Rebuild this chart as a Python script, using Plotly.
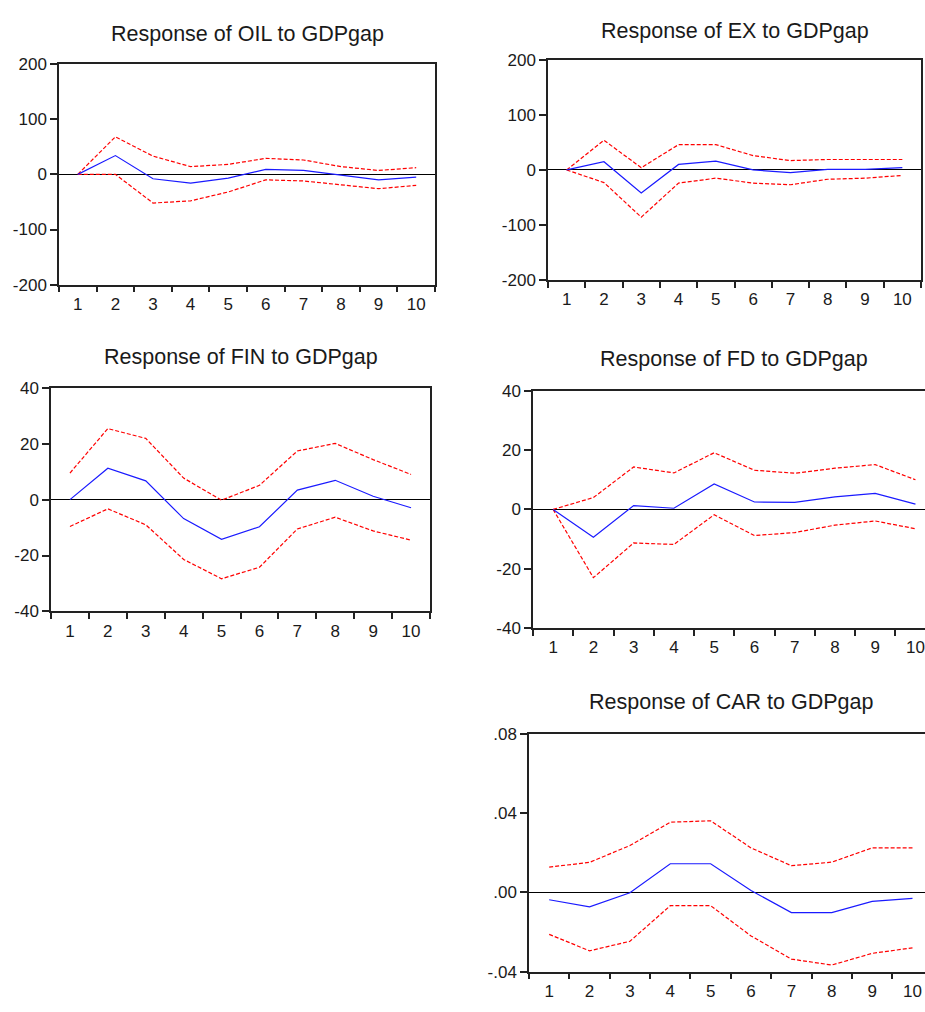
import plotly.graph_objects as go

W, H = 925, 1012

periods = ["1", "2", "3", "4", "5", "6", "7", "8", "9", "10"]

oil_resp = [0, 34, -8, -16, -7, 9, 7, -2, -10, -5]
oil_up = [0, 68, 33, 14, 18, 29, 26, 14, 7, 12]
oil_lo = [0, 0, -52, -48, -32, -10, -12, -19, -26, -20]

ex_resp = [0, 15, -42, 10, 16, 0, -5, 1, 1, 4]
ex_up = [0, 54, 4, 46, 46, 26, 17, 19, 19, 19]
ex_lo = [0, -23, -86, -24, -15, -24, -27, -17, -15, -10]

fin_resp = [0, 11.2, 6.7, -6.8, -14.2, -9.7, 3.4, 6.9, 1.2, -2.9]
fin_up = [9.5, 25.4, 21.9, 7.7, -0.2, 5.1, 17.4, 20.1, 14.3, 9.0]
fin_lo = [-9.6, -3.3, -9.0, -21.4, -28.3, -24.2, -10.5, -6.3, -11.2, -14.5]

fd_resp = [0, -9.4, 1.3, 0.4, 8.6, 2.5, 2.4, 4.2, 5.4, 1.8]
fd_up = [0, 4.0, 14.3, 12.3, 19.1, 13.2, 12.2, 13.9, 15.1, 10.0]
fd_lo = [0, -23.0, -11.3, -11.8, -1.8, -8.8, -7.8, -5.3, -3.9, -6.5]

car_resp = [-0.0037, -0.0073, -0.0002, 0.0145, 0.0145, 0.0010, -0.0102, -0.0102, -0.0045, -0.0030]
car_up = [0.0128, 0.0152, 0.0237, 0.0355, 0.0362, 0.0225, 0.0135, 0.0153, 0.0225, 0.0225]
car_lo = [-0.0212, -0.0295, -0.0247, -0.0067, -0.0067, -0.0220, -0.0337, -0.0367, -0.0308, -0.0280]

titles = ["Response of OIL to GDPgap", "Response of EX to GDPgap",
          "Response of FIN to GDPgap", "Response of FD to GDPgap",
          "Response of CAR to GDPgap"]

panels = [
    dict(resp=oil_resp, up=oil_up, lo=oil_lo, box=(59, 435, 56, 281), xr=[-0.5, 9.5],
         yr=[-200, 200], yt=[-200, -100, 0, 100, 200], ytt=["-200", "-100", "0", "100", "200"],
         ty=25, cut=False),
    dict(resp=ex_resp, up=ex_up, lo=ex_lo, box=(548, 921, 52, 276), xr=[-0.5, 9.5],
         yr=[-200, 200], yt=[-200, -100, 0, 100, 200], ytt=["-200", "-100", "0", "100", "200"],
         ty=22, cut=False),
    dict(resp=fin_resp, up=fin_up, lo=fin_lo, box=(51, 430, 386, 614), xr=[-0.5, 9.5],
         yr=[-40, 40], yt=[-40, -20, 0, 20, 40], ytt=["-40", "-20", "0", "20", "40"],
         ty=355, cut=False),
    dict(resp=fd_resp, up=fd_up, lo=fd_lo, box=(533, 925, 389, 631), xr=[-0.5, 9.237],
         yr=[-40, 40], yt=[-40, -20, 0, 20, 40], ytt=["-40", "-20", "0", "20", "40"],
         ty=357, cut=True, full_right=935),
    dict(resp=car_resp, up=car_up, lo=car_lo, box=(529, 925, 739, 981), xr=[-0.5, 9.31],
         yr=[-0.04, 0.08], yt=[-0.04, 0.0, 0.04, 0.08], ytt=["-.04", ".00", ".04", ".08"],
         ty=706, cut=True, full_right=932),
]

FONT = "Liberation Sans, Arial, sans-serif"
TXT = "#1a1a1a"
AX = "#222222"

fig = go.Figure()
annotations = []
layout = {}
for i, p in enumerate(panels):
    n = "" if i == 0 else str(i + 1)
    xa, ya = "x" + n, "y" + n
    x0, x1, y0, y1 = p["box"]
    for vals, color, dash in [(p["up"], "#ff0000", "4px,2px"), (p["lo"], "#ff0000", "4px,2px"),
                              (p["resp"], "#1a1aff", "solid")]:
        fig.add_trace(go.Scatter(x=periods, y=vals, mode="lines", xaxis=xa, yaxis=ya,
                                 line=dict(color=color, width=1.2, dash=dash),
                                 showlegend=False, hoverinfo="skip"))
    layout["xaxis" + n] = dict(
        domain=[x0 / W, x1 / W], anchor=ya, type="category", range=p["xr"],
        categoryorder="array", categoryarray=periods,
        tickson="boundaries", ticks="outside", ticklen=6, tickwidth=1.5, tickcolor=AX,
        showline=True, linecolor=AX, linewidth=1.5, mirror=True,
        showgrid=False, zeroline=False, tickfont=dict(family=FONT, size=17, color=TXT),
        ticklabelstandoff=3, fixedrange=True,
    )
    layout["yaxis" + n] = dict(
        domain=[1 - y1 / H, 1 - y0 / H], anchor=xa, range=p["yr"],
        tickvals=p["yt"], ticktext=p["ytt"], ticks="outside", ticklen=7, tickwidth=1.5,
        tickcolor=AX, showline=True, linecolor=AX, linewidth=1.5,
        mirror=(not p["cut"]), showgrid=False, zeroline=True, zerolinecolor="#000000",
        zerolinewidth=1.2, tickfont=dict(family=FONT, size=17, color=TXT), fixedrange=True,
    )
    right = p.get("full_right", x1)
    annotations.append(dict(text=titles[i], x=(x0 + right) / 2 / W, y=1 - p["ty"] / H,
                            xref="paper", yref="paper", xanchor="center", yanchor="middle",
                            showarrow=False, font=dict(family=FONT, size=21.5, color=TXT)))

fig.update_layout(width=W, height=H, margin=dict(l=0, r=0, t=0, b=0),
                  paper_bgcolor="white", plot_bgcolor="white",
                  annotations=annotations, **layout)
fig.write_html("out.html", config={"displayModeBar": False},
               post_script="document.body.style.margin='0';document.body.style.overflow='hidden';")
